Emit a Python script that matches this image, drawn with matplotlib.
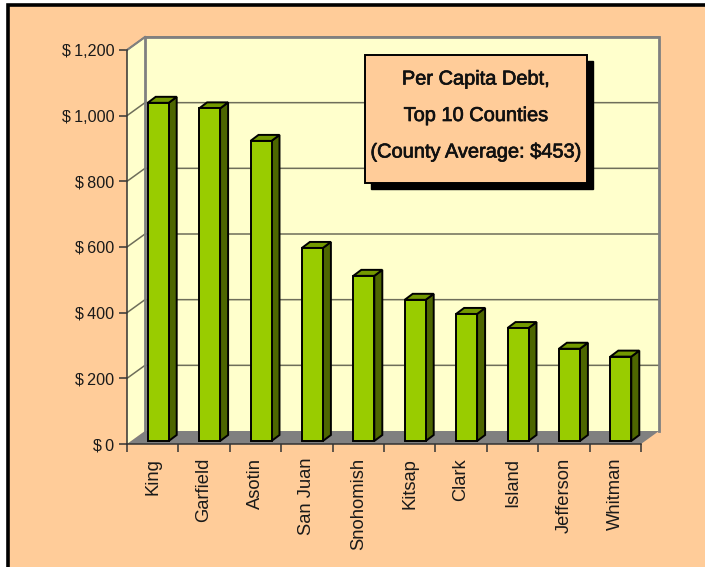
# Per capita debt, top 10 counties - fake 3D column chart
import matplotlib
matplotlib.use("Agg")
import matplotlib.pyplot as plt
import matplotlib.patheffects as pe
from matplotlib.patches import Polygon, Rectangle

counties = ["King", "Garfield", "Asotin", "San Juan", "Snohomish",
            "Kitsap", "Clark", "Island", "Jefferson", "Whitman"]
debt = [1030, 1013, 914, 588, 503, 430, 387, 344, 281, 257]
y_ticks = [0, 200, 400, 600, 800, 1000, 1200]
y_labels = ["$\u20090", "$\u2009200", "$\u2009400", "$\u2009600", "$\u2009800",
            "$\u20091,000", "$\u20091,200"]
box_lines = ["Per Capita Debt,", "Top 10 Counties", "(County Average: $453)"]

W, H = 705, 567
LEFT, RIGHT, TOP, BOTTOM = 127, 641, 50, 444
plt.rcParams["font.family"] = ["Liberation Sans", "DejaVu Sans"]

fig = plt.figure(figsize=(W / 100, H / 100), dpi=100, facecolor="white")
ax = fig.add_axes([LEFT / W, 1 - BOTTOM / H, (RIGHT - LEFT) / W, (BOTTOM - TOP) / H])
ax.set_xlim(0, 10)
ax.set_ylim(0, 1200)
ax.patch.set_alpha(0)

# pixel sizes converted to data units
px = 10 / (RIGHT - LEFT)
py = 1200 / (BOTTOM - TOP)
dx, dy = 18 * px, 13 * py


def poly(pts, fc, ec="none", lw=1.0, z=1):
    ax.add_patch(Polygon(pts, closed=True, fc=fc, ec=ec, lw=lw, zorder=z,
                         clip_on=False, joinstyle="miter"))


# walls and floor
poly([(0, 0), (dx, dy), (dx, 1200 + dy), (0, 1200)], "#FFFFCC")
poly([(dx, dy), (10 + dx, dy), (10 + dx, 1200 + dy), (dx, 1200 + dy)], "#FFFFCC")
poly([(0, 0), (10, 0), (10 + dx, dy), (dx, dy)], "#808080")

# gridlines
for t in y_ticks[1:]:
    ax.plot([0, dx, 10 + dx], [t, t + dy, t + dy], color="#6E6E5A", lw=1.1, zorder=2,
            clip_on=False, solid_joinstyle="miter")
ax.plot([dx, dx, 10 + dx, 10 + dx], [dy, 1200 + dy, 1200 + dy, dy], color="#808080",
        lw=2, zorder=2, clip_on=False, solid_joinstyle="miter")
ax.plot([0, dx], [1200, 1200 + dy], color="#808080", lw=1.5, zorder=2, clip_on=False)

# bars: front face from the axes, side and top drawn with the same scale
bar_w = 21 * px
off_x, off_y = 5.5 * px, 3 * py
depth_x, depth_y = 8 * px, 6 * py
positions = [i + 0.5 + off_x for i in range(len(debt))]
ax.bar(positions, debt, bottom=off_y, width=bar_w, color="#99CC00", edgecolor="black",
       linewidth=1.4, zorder=5)
for p, v in zip(positions, debt):
    r = p + bar_w / 2
    l = p - bar_w / 2
    t = v + off_y
    poly([(r, off_y), (r + depth_x, off_y + depth_y), (r + depth_x, t + depth_y), (r, t)],
         "#4D6600", "black", 1.4, 4)
    poly([(l, t), (r, t), (r + depth_x, t + depth_y), (l + depth_x, t + depth_y)],
         "#739900", "black", 1.4, 4)

# axes look
for s in ("top", "right"):
    ax.spines[s].set_visible(False)
for s in ("left", "bottom"):
    ax.spines[s].set_color("#333333")
    ax.spines[s].set_linewidth(1.1)
    ax.spines[s].set_zorder(3)
ax.set_yticks(y_ticks, y_labels)
ax.set_xticks(range(11), [""] * 11)
ax.set_xticks([i + 0.5 for i in range(10)], counties, minor=True, rotation=90)
ax.tick_params(axis="both", which="major", length=6, width=1.1, color="#333333",
               labelsize=11.6, labelcolor="#1A1A1A", pad=3)
ax.tick_params(axis="x", which="minor", length=0, labelsize=13.2, labelcolor="#1A1A1A", pad=10)

# peach panel with black frame, white shows left of and above it
fig.add_artist(Rectangle((8.2 / W, -0.02), 720 / W, 1 - 4.5 / H + 0.02, fc="#FFCC99", ec="black",
                         lw=2.6, transform=fig.transFigure, zorder=-1))

# note box with shadow
bx0, bx1, by0, by1 = 365, 586.5, 55, 182.5
to_fig = lambda x, y: (x / W, 1 - y / H)
fig.add_artist(Rectangle(to_fig(bx0 + 6, by1 + 6), (bx1 - bx0) / W, (by1 - by0) / H,
                         fc="black", ec="black", lw=1, transform=fig.transFigure, zorder=6))
fig.add_artist(Rectangle(to_fig(bx0, by1), (bx1 - bx0) / W, (by1 - by0) / H,
                         fc="#FFCC99", ec="black", lw=1.4, transform=fig.transFigure, zorder=7))
for line, yy in zip(box_lines, [79, 115.5, 152]):
    x_f, y_f = to_fig((bx0 + bx1) / 2, yy)
    fig.text(x_f, y_f, line, ha="center", va="center", fontsize=14.4, color="#111111",
             zorder=8, path_effects=[pe.withStroke(linewidth=0.5, foreground="#111111")])

fig.savefig("out.png", dpi=100, facecolor=fig.get_facecolor())
